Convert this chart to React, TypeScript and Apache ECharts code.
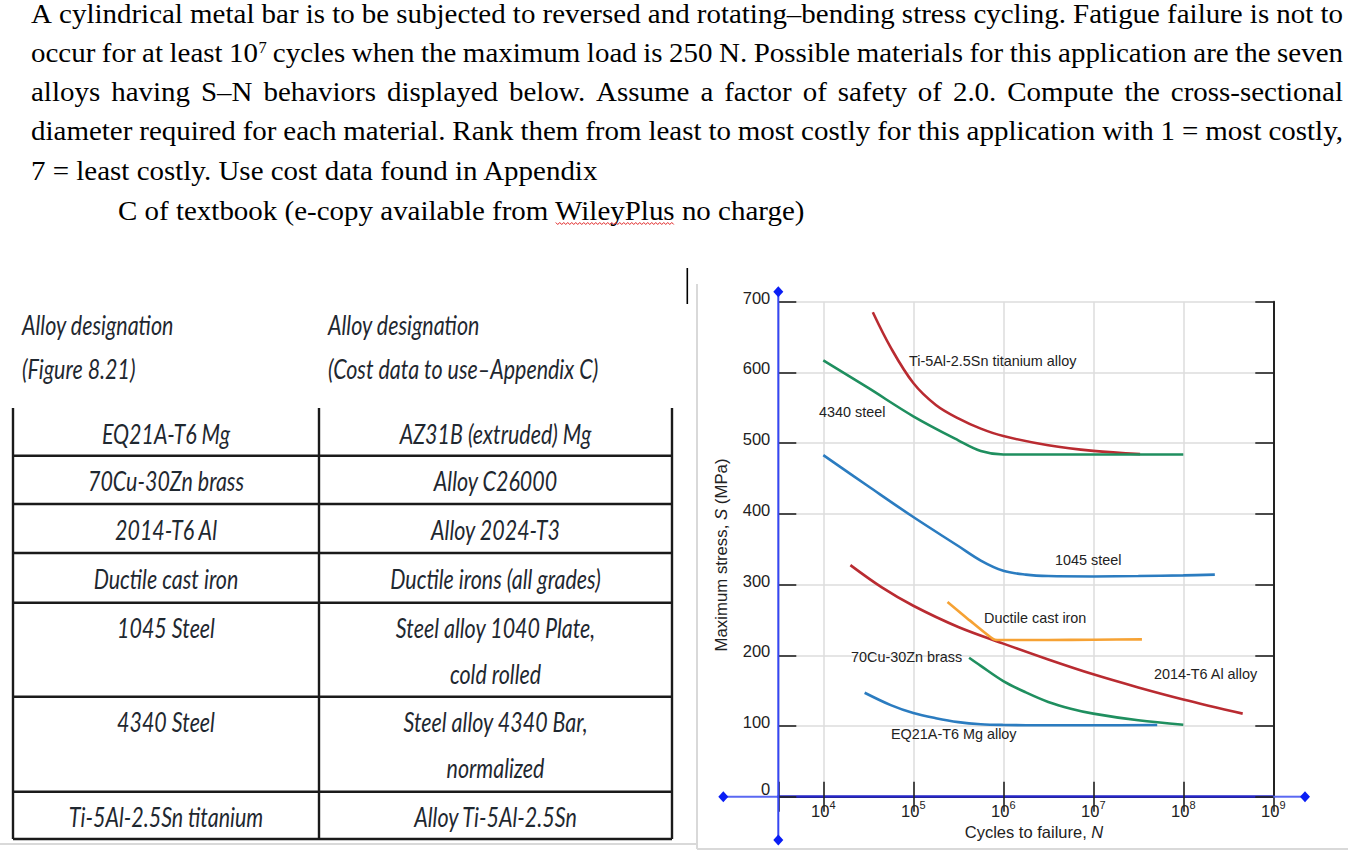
import React, { useEffect, useRef } from "react";
import * as echarts from "echarts";

// ---------------- data ----------------
const PARAGRAPH_LINES = [
  "A cylindrical metal bar is to be subjected to reversed and rotating–bending stress cycling. Fatigue failure is not to",
  "occur for at least 10⁷ cycles when the maximum load is 250 N. Possible materials for this application are the seven",
  "alloys having S–N behaviors displayed below. Assume a factor of safety of 2.0. Compute the cross-sectional",
  "diameter required for each material. Rank them from least to most costly for this application with 1 = most costly,",
  "7 = least costly. Use cost data found in Appendix",
  "C of textbook (e-copy available from WileyPlus no charge)",
];
const PARAGRAPH_JUSTIFIED = [true, true, true, true, false, false];

const HEADER_FIGURE = ["Alloy designation", "(Figure 8.21)"];
const HEADER_COST = ["Alloy designation", "(Cost data to use–Appendix C)"];
const ALLOYS_FIGURE = [
  ["EQ21A-T6 Mg"],
  ["70Cu-30Zn brass"],
  ["2014-T6 Al"],
  ["Ductile cast iron"],
  ["1045 Steel"],
  ["4340 Steel"],
  ["Ti-5Al-2.5Sn titanium"],
];
const ALLOYS_COST = [
  ["AZ31B (extruded) Mg"],
  ["Alloy C26000"],
  ["Alloy 2024-T3"],
  ["Ductile irons (all grades)"],
  ["Steel alloy 1040 Plate,", "cold rolled"],
  ["Steel alloy 4340 Bar,", "normalized"],
  ["Alloy Ti-5Al-2.5Sn"],
];

// S–N curves: [cycles N, stress S (MPa)]
const TI_5AL_2_5SN = [[35500, 685], [56200, 635], [100000, 585], [178000, 554], [316000, 535], [562000, 520.5], [1000000, 510], [3160000, 497], [10000000, 489], [33100000, 484.5]];
const STEEL_4340 = [[10000, 617], [31600, 578], [100000, 538], [316000, 504], [562000, 489], [1000000, 484], [3160000, 484], [10000000, 484], [31600000, 484], [100000000, 484]];
const STEEL_1045 = [[10000, 483], [31600, 439], [100000, 395.5], [316000, 354.5], [562000, 334], [1000000, 319.5], [1780000, 314], [3160000, 312], [10000000, 311.5], [31600000, 312], [100000000, 313], [224000000, 314]];
const AL_2014_T6 = [[20000, 327.5], [44700, 296], [100000, 270], [316000, 240], [1000000, 216.5], [3160000, 194], [10000000, 173], [31600000, 154.5], [100000000, 137.5], [457000000, 117.5]];
const DUCTILE_IRON = [[240000, 275.5], [427000, 249], [776000, 223], [1000000, 221.5], [3160000, 221.5], [10000000, 222], [34700000, 222.5]];
const BRASS_70_30 = [[417000, 196.5], [562000, 185], [1000000, 163.5], [1780000, 147.5], [3160000, 134], [5620000, 124.5], [10000000, 117.5], [31600000, 108], [100000000, 101.7]];
const MG_EQ21A_T6 = [[28800, 147], [56200, 129.5], [100000, 118.3], [178000, 111], [316000, 105.5], [562000, 102.5], [1000000, 101.5], [3160000, 101], [10000000, 101], [51300000, 101.5]];

const CURVE_NAMES = [
  "Ti-5Al-2.5Sn titanium alloy",
  "4340 steel",
  "1045 steel",
  "2014-T6 Al alloy",
  "Ductile cast iron",
  "70Cu-30Zn brass",
  "EQ21A-T6 Mg alloy",
];
const CURVE_DATA = [TI_5AL_2_5SN, STEEL_4340, STEEL_1045, AL_2014_T6, DUCTILE_IRON, BRASS_70_30, MG_EQ21A_T6];
const STRESS_MIN = 0;
const STRESS_MAX = 700;
const STRESS_STEP = 100;
const CYCLES_MIN = Math.pow(10, 3.5);
const CYCLES_MAX = 1e9;

// ---------------- styling / layout ----------------
const RED = "#b92b31";
const GREEN = "#1f8f5f";
const BLUE = "#2b7cc0";
const ORANGE = "#f6a234";
const CURVE_COLORS = [RED, GREEN, BLUE, RED, ORANGE, GREEN, BLUE];
const CURVE_SMOOTH = [0.35, 0.35, 0.35, 0.35, 0.2, 0.35, 0.35];
const LABEL_POS = [
  [909, 361],
  [819, 412],
  [1055, 560],
  [1154, 674],
  [984, 618],
  [851, 657],
  [891, 734],
];
const GRID = { left: 778.3, top: 301.7, width: 495, height: 495 };
const PARA_BASELINES = [23.3, 61.7, 100.7, 140, 180, 220];
const TABLE_ROW_EDGES = [408, 455.7, 504, 553, 602.7, 696.7, 791.7, 839];
const TABLE_COLS = [13, 319, 672];

export default function App() {
  const ref = useRef<HTMLDivElement>(null);

  useEffect(() => {
    const el = ref.current!;
    const chart = echarts.init(el, null, { renderer: "svg" });
    const canvas = document.createElement("canvas");
    const ctx = canvas.getContext("2d")!;
    const measure = (s: string, font: string) => {
      ctx.font = font;
      return ctx.measureText(s).width;
    };

    const g: any[] = [];

    // ---------- paragraph ----------
    const PFS = 28;
    const PSX = 1.035;
    const SERIF = '"Liberation Serif", "Times New Roman", serif';
    const pfont = `${PFS}px ${SERIF}`;
    const SUPFS = 16;
    const supFont = `${SUPFS}px ${SERIF}`;
    const ptext = (t: string, x: number, y: number, size = PFS) => ({
      type: "text",
      x,
      y,
      scaleX: PSX,
      style: { text: t, fontSize: size, fontFamily: SERIF, fill: "#000", align: "left", verticalAlign: "middle" },
    });
    const tokenWidth = (w: string) => {
      if (w.includes("⁷")) return (measure(w.replace("⁷", ""), pfont) + measure("7", supFont)) * PSX;
      return measure(w, pfont) * PSX;
    };
    PARAGRAPH_LINES.forEach((line, i) => {
      const y = PARA_BASELINES[i] - 9.5;
      const startX = i === 5 ? 118 : 31;
      if (!PARAGRAPH_JUSTIFIED[i]) {
        g.push(ptext(line, startX, y));
        return;
      }
      const words = line.split(" ");
      const widths = words.map(tokenWidth);
      const total = widths.reduce((a, b) => a + b, 0);
      const gap = (1343 - startX - total) / (words.length - 1);
      let x = startX;
      words.forEach((w, k) => {
        if (w.includes("⁷")) {
          const base = w.replace("⁷", "");
          g.push(ptext(base, x, y));
          const bw = measure(base, pfont) * PSX;
          g.push(ptext("7", x + bw + 0.5, y - 4.5, SUPFS));
        } else {
          g.push(ptext(w, x, y));
        }
        x += widths[k] + gap;
      });
    });
    // spell-check wavy underline under "WileyPlus"
    {
      const pre = "C of textbook (e-copy available from ";
      const x0 = 118 + measure(pre, pfont) * PSX;
      const x1 = x0 + measure("WileyPlus", pfont) * PSX;
      const pts: number[][] = [];
      let k = 0;
      for (let x = x0; x <= x1; x += 2, k++) pts.push([x, k % 2 === 0 ? 222.5 : 224.5]);
      g.push({ type: "polyline", shape: { points: pts }, style: { stroke: "#e02020", lineWidth: 1, fill: null } });
    }

    // text cursor bar
    g.push({ type: "rect", shape: { x: 686.5, y: 268, width: 1.6, height: 36 }, style: { fill: "#000" } });

    // ---------- table ----------
    const LATO = 'Lato, "Open Sans", sans-serif';
    const TFS = 27.5;
    const TSX = 0.78;
    const tcolor = "#1f2830";
    const ttext = (t: string, x: number, y: number, align: string) => ({
      type: "text",
      x,
      y,
      scaleX: TSX,
      style: { text: t, fontSize: TFS, fontFamily: LATO, fontStyle: "italic", fill: tcolor, align, verticalAlign: "middle" },
    });
    HEADER_FIGURE.forEach((t, i) => g.push(ttext(t, 22, 324 + i * 44, "left")));
    HEADER_COST.forEach((t, i) => g.push(ttext(t, 328, 324 + i * 44, "left")));
    const c1 = (TABLE_COLS[0] + TABLE_COLS[1]) / 2;
    const c2 = (TABLE_COLS[1] + TABLE_COLS[2]) / 2;
    ALLOYS_FIGURE.forEach((lines, r) => {
      lines.forEach((t, j) => g.push(ttext(t, c1, TABLE_ROW_EDGES[r] + 25 + j * 46, "center")));
    });
    ALLOYS_COST.forEach((lines, r) => {
      lines.forEach((t, j) => g.push(ttext(t, c2, TABLE_ROW_EDGES[r] + 25 + j * 46, "center")));
    });
    const tline = (x1: number, y1: number, x2: number, y2: number) => ({
      type: "line",
      shape: { x1, y1, x2, y2 },
      style: { stroke: "#1a1a1a", lineWidth: 2.4 },
    });
    TABLE_COLS.forEach((x) => g.push(tline(x, TABLE_ROW_EDGES[0], x, TABLE_ROW_EDGES[TABLE_ROW_EDGES.length - 1])));
    TABLE_ROW_EDGES.slice(1).forEach((y) => g.push(tline(TABLE_COLS[0], y, TABLE_COLS[2], y)));

    // faint page/panel borders
    const grey = { stroke: "#d9d9d9", lineWidth: 2 };
    g.push({ type: "line", shape: { x1: 0, y1: 844, x2: 697, y2: 844 }, style: grey });
    g.push({ type: "line", shape: { x1: 697, y1: 284, x2: 697, y2: 849 }, style: grey });
    g.push({ type: "line", shape: { x1: 697, y1: 849, x2: 1348, y2: 849 }, style: grey });

    // ---------- chart decorations ----------
    const gx0 = GRID.left;
    const gx1 = GRID.left + GRID.width;
    const gy1 = GRID.top + GRID.height;
    const lightBlue = { stroke: "#5a68f2", lineWidth: 2 };
    g.push({ type: "line", z: 20, shape: { x1: 723.3, y1: gy1, x2: gx0, y2: gy1 }, style: lightBlue });
    g.push({ type: "line", z: 20, shape: { x1: gx1, y1: gy1, x2: 1305, y2: gy1 }, style: lightBlue });
    g.push({ type: "line", z: 22, shape: { x1: gx0, y1: 291.7, x2: gx0, y2: 840 }, style: { stroke: "#3646f2", lineWidth: 2 } });
    const diamond = (cx: number, cy: number) => ({
      type: "polygon",
      z: 23,
      shape: { points: [[cx, cy - 5.5], [cx + 5, cy], [cx, cy + 5.5], [cx - 5, cy]] },
      style: { fill: "#0a1ef5" },
    });
    g.push(diamond(gx0, 291.7), diamond(gx0, 840), diamond(723.3, gy1), diamond(1305, gy1));

    const SANS = '"Liberation Sans", Arial, Helvetica, sans-serif';
    CURVE_NAMES.forEach((name, i) => {
      g.push({
        type: "text",
        z: 15,
        x: LABEL_POS[i][0],
        y: LABEL_POS[i][1],
        style: { text: name, fontSize: 14.4, fontFamily: SANS, fill: "#222", align: "left", verticalAlign: "middle" },
      });
    });
    g.push({
      type: "text",
      z: 15,
      x: 1034,
      y: 832,
      style: {
        text: "Cycles to failure, {i|N}",
        fontSize: 16.5,
        fontFamily: SANS,
        fill: "#222",
        align: "center",
        verticalAlign: "middle",
        rich: { i: { fontSize: 16.5, fontFamily: SANS, fontStyle: "italic", fill: "#222" } },
      },
    });
    g.push({
      type: "text",
      z: 15,
      x: 721,
      y: 555,
      rotation: Math.PI / 2,
      style: {
        text: "Maximum stress, {i|S} (MPa)",
        fontSize: 16.8,
        fontFamily: SANS,
        fill: "#222",
        align: "center",
        verticalAlign: "middle",
        rich: { i: { fontSize: 16.8, fontFamily: SANS, fontStyle: "italic", fill: "#222" } },
      },
    });

    const tickStyle = { color: "#222", width: 1.6 };
    const gridLine = { color: "#dcdcdc", width: 1.5 };
    const logAxisBase = {
      type: "log",
      logBase: 10,
      min: CYCLES_MIN,
      max: CYCLES_MAX,
      minorTick: { show: false },
      minorSplitLine: { show: false },
    };

    const option: any = {
      animation: false,
      backgroundColor: "#fff",
      textStyle: { fontFamily: SANS },
      grid: { left: GRID.left, top: GRID.top, width: GRID.width, height: GRID.height, containLabel: false },
      xAxis: [
        {
          ...logAxisBase,
          position: "bottom",
          axisLine: { show: false },
          axisTick: { show: false },
          splitLine: { show: true, lineStyle: gridLine },
          axisLabel: {
            margin: 3,
            color: "#222",
            formatter: (v: number) => {
              const e = Math.log10(v);
              const r = Math.round(e);
              if (Math.abs(e - r) > 1e-6) return "";
              return `{b|10}{s|${r}}`;
            },
            rich: {
              b: { fontSize: 16.5, lineHeight: 20, verticalAlign: "bottom", color: "#222", fontFamily: SANS },
              s: { fontSize: 11, lineHeight: 11, verticalAlign: "top", color: "#222", fontFamily: SANS },
            },
          },
        },
        {
          ...logAxisBase,
          position: "top",
          axisLine: { show: true, lineStyle: { color: "#222", width: 2 } },
          axisTick: { show: true, inside: true, length: 15, lineStyle: tickStyle },
          axisLabel: { show: false },
          splitLine: { show: false },
        },
        {
          ...logAxisBase,
          position: "bottom",
          axisLine: { show: true, onZero: false, lineStyle: { color: "#2626c8", width: 2.6 } },
          axisTick: { show: true, inside: true, length: 15, lineStyle: tickStyle },
          axisLabel: { show: false },
          splitLine: { show: false },
        },
      ],
      yAxis: [
        {
          type: "value",
          min: STRESS_MIN,
          max: STRESS_MAX,
          interval: STRESS_STEP,
          position: "left",
          axisLine: { show: false },
          axisTick: { show: true, inside: true, length: 18, lineStyle: tickStyle },
          splitLine: { show: true, lineStyle: gridLine },
          axisLabel: {
            margin: 8,
            color: "#222",
            formatter: (v: number) => (v === 0 ? `{z|${v}}` : `{n|${v}}`),
            rich: {
              n: { fontSize: 16.5, padding: [0, 0, 8, 0], color: "#222", fontFamily: SANS },
              z: { fontSize: 16.5, padding: [0, 0, 16, 0], color: "#222", fontFamily: SANS },
            },
          },
        },
        {
          type: "value",
          min: STRESS_MIN,
          max: STRESS_MAX,
          interval: STRESS_STEP,
          position: "right",
          axisLine: { show: true, lineStyle: { color: "#222", width: 2 } },
          axisTick: { show: true, inside: true, length: 18, lineStyle: tickStyle },
          axisLabel: { show: false },
          splitLine: { show: false },
        },
      ],
      series: CURVE_DATA.map((data, i) => ({
        name: CURVE_NAMES[i],
        type: "line",
        xAxisIndex: 0,
        yAxisIndex: 0,
        data,
        smooth: CURVE_SMOOTH[i],
        showSymbol: false,
        silent: true,
        z: 5,
        lineStyle: { color: CURVE_COLORS[i], width: 2.6 },
      })),
      graphic: { elements: g },
    };
    chart.setOption(option);
    return () => chart.dispose();
  }, []);

  return (
    <div
      ref={ref}
      style={{ position: "absolute", left: 0, top: 0, width: 1348, height: 857, background: "#fff" }}
    />
  );
}
